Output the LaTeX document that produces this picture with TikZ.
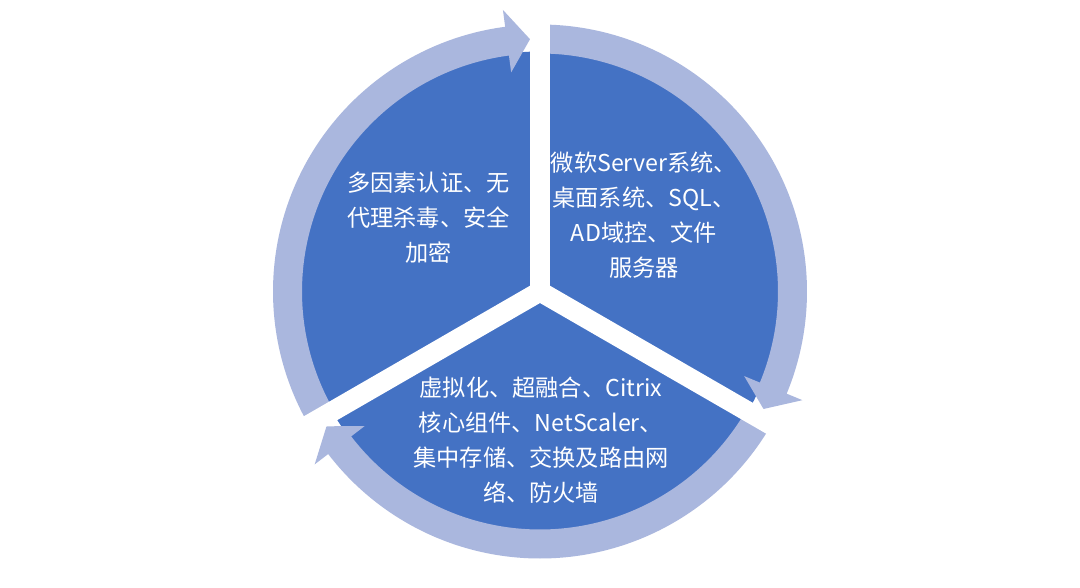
\documentclass[tikz,border=0pt]{standalone}
\usepackage{fontspec}
\newfontfamily\cjkfont{Noto Sans CJK SC}
\definecolor{pieblue}{RGB}{68,114,196}
\definecolor{ringblue}{RGB}{170,183,222}
\tikzset{
  seglabel/.style={text=white, align=center, inner sep=0pt,
    font={\cjkfont\fontsize{23.2}{35}\selectfont}},
  ringarc/.style={fill=ringblue, draw=none},
  gapstrip/.style={fill=white, draw=none}
}
\begin{document}
\begin{tikzpicture}[x=1pt,y=1pt]
\useasboundingbox (0,0) rectangle (1080,587);
\fill[white] (0,0) rectangle (1080,587);
\begin{scope}[shift={(540,295.5)}]
  % pie
  \fill[pieblue] (0,0) circle[radius=240];
  % ring arcs with arrowheads (clockwise)
  \foreach \a in {210,90,-30}{
    \pgfmathsetmacro{\tip}{\a-120+2.27}
    \pgfmathsetmacro{\base}{\a-120+7.5}
    \fill[ringarc] (\a:267) arc[start angle=\a, end angle=\base, radius=267]
      -- (\base:284) -- (\tip:252.5) -- (\base:221) -- (\base:238)
      arc[start angle=\base, end angle=\a, radius=238] -- cycle;
  }
  % white gaps
  \foreach \a in {90,210,330}{
    \fill[gapstrip, rotate=\a] (0,-10) -- (310,-10) -- (310,10) -- (0,10) -- cycle;
  }
  \fill[gapstrip] (0,0) circle[radius=10];
\end{scope}
\node[seglabel] (sec) at (428.5,369.5) {多因素认证、无\\代理杀毒、安全\\加密};
\node[seglabel] (srv) at (644,371.5) {微软Server系统、\\桌面系统、SQL、\\AD域控、文件\\服务器};
\node[seglabel] (inf) at (541,147) {虚拟化、超融合、Citrix\\核心组件、NetScaler、\\集中存储、交换及路由网\\络、防火墙};
\end{tikzpicture}
\end{document}
